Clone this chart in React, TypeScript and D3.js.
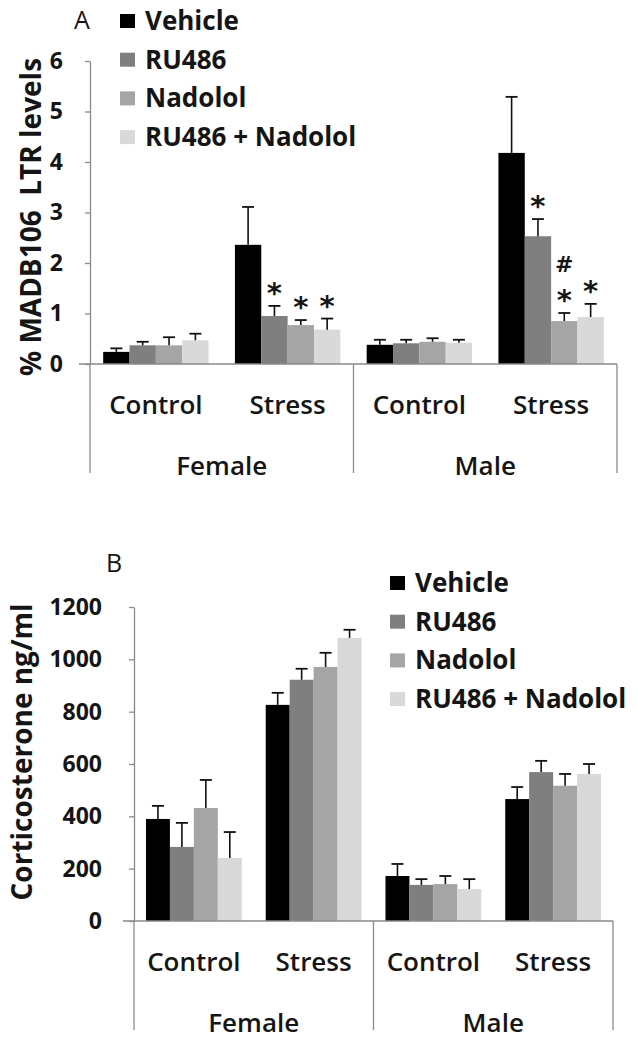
import React, { useEffect, useRef } from "react";
import * as d3 from "d3";

const treatments = ["Vehicle", "RU486", "Nadolol", "RU486 + Nadolol"];
const barColors = ["#000000", "#7f7f7f", "#a5a5a5", "#d9d9d9"];
const sexes = ["Female", "Male"];
const conditions = ["Control", "Stress"];

// order of groups: Female Control, Female Stress, Male Control, Male Stress
// panel A: % MADB106 LTR levels
const madbVehicle = [0.24, 2.36, 0.38, 4.18];
const madbRU486 = [0.37, 0.95, 0.41, 2.53];
const madbNadolol = [0.37, 0.77, 0.44, 0.85];
const madbCombo = [0.47, 0.68, 0.42, 0.93];
const madbErrVehicle = [0.07, 0.75, 0.1, 1.11];
const madbErrRU486 = [0.07, 0.2, 0.07, 0.34];
const madbErrNadolol = [0.16, 0.1, 0.07, 0.16];
const madbErrCombo = [0.13, 0.22, 0.06, 0.26];
const madbMarksVehicle = ["", "", "", ""];
const madbMarksRU486 = ["", "*", "", "*"];
const madbMarksNadolol = ["", "*", "", "#*"];
const madbMarksCombo = ["", "*", "", "*"];
const madbTicks = [0, 1, 2, 3, 4, 5, 6];

// panel B: corticosterone ng/ml
const cortVehicle = [390, 826, 172, 466];
const cortRU486 = [283, 922, 138, 569];
const cortNadolol = [432, 971, 141, 517];
const cortCombo = [241, 1082, 122, 562];
const cortErrVehicle = [50, 46, 46, 46];
const cortErrRU486 = [92, 42, 22, 43];
const cortErrNadolol = [107, 54, 31, 45];
const cortErrCombo = [99, 31, 38, 38];
const cortTicks = [0, 200, 400, 600, 800, 1000, 1200];

const FONT = "'Open Sans', Lato, sans-serif";
const INK = "#151515";
const AXIS = "#8a8a8a";

const drawPanel = (svg, cfg) => {
    const g = svg.append("g");

    const yScale = d3.scaleLinear().domain([0, cfg.yMax]).range([cfg.y0, cfg.yTop]);
    const sexScale = d3.scaleBand().domain(sexes).range([cfg.x0, cfg.x1]);
    const condScale = d3.scaleBand().domain(conditions).range([0, sexScale.bandwidth()]);
    const barScale = d3.scaleBand()
        .domain(treatments)
        .range([0, condScale.bandwidth()])
        .paddingInner(0)
        .paddingOuter(0.5);

    const groupX = i => sexScale(sexes[Math.floor(i / 2)]) + condScale(conditions[i % 2]);

    // y axis
    const yAxis = d3.axisLeft(yScale)
        .tickValues(cfg.ticks)
        .tickFormat(d3.format("d"))
        .tickSize(5)
        .tickSizeOuter(0)
        .tickPadding(cfg.tickPad);
    const yAxisG = g.append("g")
        .attr("transform", `translate(${cfg.x0},0)`)
        .call(yAxis);
    yAxisG.selectAll("path, line").attr("stroke", AXIS).attr("stroke-width", 1.3);
    yAxisG.selectAll("text")
        .attr("font-family", FONT)
        .attr("font-size", 23)
        .attr("font-weight", 700)
        .attr("fill", INK);

    // y label
    g.append("text")
        .attr("transform", `translate(${cfg.labelX},${cfg.labelY}) rotate(-90)`)
        .attr("text-anchor", "middle")
        .attr("font-family", FONT)
        .attr("font-size", 28)
        .attr("font-weight", 700)
        .attr("fill", INK)
        .style("white-space", "pre")
        .text(cfg.yLabel);

    // bars
    cfg.series.forEach((s, k) => {
        const t = treatments[k];
        s.values.forEach((v, i) => {
            const bx = groupX(i) + barScale(t);
            const bw = barScale.bandwidth();
            g.append("rect")
                .attr("x", bx)
                .attr("y", yScale(v))
                .attr("width", bw)
                .attr("height", cfg.y0 - yScale(v))
                .attr("fill", barColors[k]);
            const top = yScale(v + s.errors[i]);
            const cx = bx + bw / 2;
            g.append("line")
                .attr("x1", cx).attr("x2", cx)
                .attr("y1", yScale(v)).attr("y2", top)
                .attr("stroke", "#111").attr("stroke-width", 1.6);
            g.append("line")
                .attr("x1", cx - 6).attr("x2", cx + 6)
                .attr("y1", top).attr("y2", top)
                .attr("stroke", "#111").attr("stroke-width", 1.8);

            // significance marks, stacked upwards from the error bar
            if (s.marks && s.marks[i]) {
                const chars = s.marks[i].split("").reverse();
                let cy = top - 21;
                chars.forEach(c => {
                    g.append("text")
                        .attr("x", cx)
                        .attr("y", c === "*" ? cy + 18 : cy + 8)
                        .attr("text-anchor", "middle")
                        .attr("font-family", "'DejaVu Sans', sans-serif")
                        .attr("font-weight", 700)
                        .attr("font-size", c === "*" ? 29 : 22)
                        .attr("fill", INK)
                        .text(c);
                    cy -= 28;
                });
            }
        });
    });

    // x axis with category dividers
    g.append("line")
        .attr("x1", cfg.x0 - 11).attr("x2", cfg.x1)
        .attr("y1", cfg.y0).attr("y2", cfg.y0)
        .attr("stroke", AXIS).attr("stroke-width", 1.3);
    [cfg.x0, sexScale("Male"), cfg.x1].forEach(x => {
        g.append("line")
            .attr("x1", x).attr("x2", x)
            .attr("y1", cfg.y0).attr("y2", cfg.y0 + 109)
            .attr("stroke", AXIS).attr("stroke-width", 1.3);
    });

    sexes.forEach(sx => {
        conditions.forEach(c => {
            g.append("text")
                .attr("x", sexScale(sx) + condScale(c) + condScale.bandwidth() / 2)
                .attr("y", cfg.y0 + 50)
                .attr("text-anchor", "middle")
                .attr("font-family", FONT)
                .attr("font-size", 26)
                .attr("font-weight", 600)
                .attr("fill", INK)
                .text(c);
        });
        g.append("text")
            .attr("x", sexScale(sx) + sexScale.bandwidth() / 2)
            .attr("y", cfg.y0 + 111)
            .attr("text-anchor", "middle")
            .attr("font-family", FONT)
            .attr("font-size", 26)
            .attr("font-weight", 600)
            .attr("fill", INK)
            .text(sx);
    });

    // panel letter
    g.append("text")
        .attr("x", cfg.letterX)
        .attr("y", cfg.letterY)
        .attr("text-anchor", "middle")
        .attr("font-family", FONT)
        .attr("font-size", 25)
        .attr("fill", INK)
        .text(cfg.letter);

    // legend
    treatments.forEach((t, k) => {
        const ly = cfg.legendY + k * 38.7;
        g.append("rect")
            .attr("x", cfg.legendX)
            .attr("y", ly - 7)
            .attr("width", 15)
            .attr("height", 14)
            .attr("fill", barColors[k]);
        g.append("text")
            .attr("x", cfg.legendX + 25)
            .attr("y", ly + 9)
            .attr("font-family", FONT)
            .attr("font-size", 26)
            .attr("font-weight", 700)
            .attr("fill", INK)
            .text(t);
    });
};

const App = () => {
    const ref = useRef(null);

    useEffect(() => {
        const svg = d3.select(ref.current);
        svg.selectAll("*").remove();

        drawPanel(svg, {
            letter: "A", letterX: 82, letterY: 29,
            yMax: 6, ticks: madbTicks, y0: 364, yTop: 61,
            x0: 90, x1: 617, tickPad: 22,
            yLabel: "% MADB106  LTR levels", labelX: 41, labelY: 217,
            legendX: 120, legendY: 21,
            series: [
                { values: madbVehicle, errors: madbErrVehicle, marks: madbMarksVehicle },
                { values: madbRU486, errors: madbErrRU486, marks: madbMarksRU486 },
                { values: madbNadolol, errors: madbErrNadolol, marks: madbMarksNadolol },
                { values: madbCombo, errors: madbErrCombo, marks: madbMarksCombo },
            ],
        });

        drawPanel(svg, {
            letter: "B", letterX: 114, letterY: 572,
            yMax: 1200, ticks: cortTicks, y0: 921, yTop: 607,
            x0: 134, x1: 613, tickPad: 27,
            yLabel: "Corticosterone ng/ml", labelX: 32, labelY: 752,
            legendX: 390, legendY: 583,
            series: [
                { values: cortVehicle, errors: cortErrVehicle },
                { values: cortRU486, errors: cortErrRU486 },
                { values: cortNadolol, errors: cortErrNadolol },
                { values: cortCombo, errors: cortErrCombo },
            ],
        });
    }, []);

    return (
        <svg
            ref={ref}
            width={638}
            height={1048}
            style={{ position: "absolute", left: 0, top: 0, background: "#fff" }}
        />
    );
};

export default App;
